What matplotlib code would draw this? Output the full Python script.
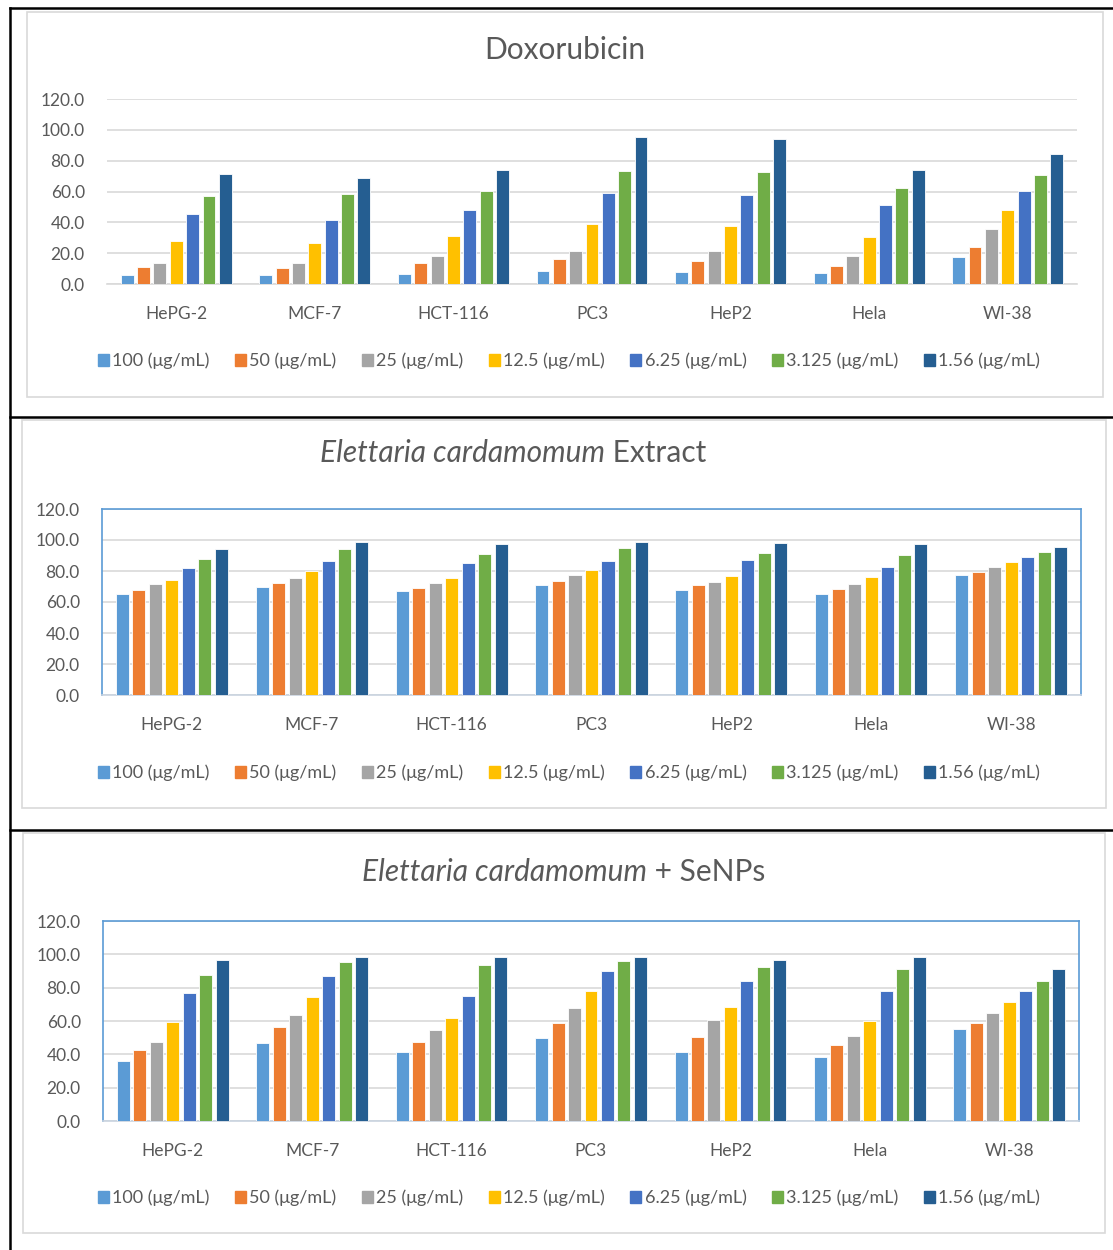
import numpy as np
import matplotlib
matplotlib.use("Agg")
import matplotlib.pyplot as plt
from matplotlib.patches import Rectangle, Patch
from matplotlib.lines import Line2D

plt.rcParams['font.family'] = ['Lato', 'DejaVu Sans']

W, H = 1113, 1250

cell_lines = ["HePG-2", "MCF-7", "HCT-116", "PC3", "HeP2", "Hela", "WI-38"]
doses = ["100 (μg/mL)", "50 (μg/mL)", "25 (μg/mL)", "12.5 (μg/mL)",
         "6.25 (μg/mL)", "3.125 (μg/mL)", "1.56 (μg/mL)"]
colors = ["#5B9BD5", "#ED7D31", "#A5A5A5", "#FFC000", "#4472C4", "#70AD47", "#255E91"]

# viability (%) per cell line, one list per dose
dox_100 = [5.9, 5.6, 6.7, 8.2, 8.0, 6.9, 17.6]
dox_50 = [10.8, 10.4, 13.7, 16.0, 15.0, 11.9, 24.3]
dox_25 = [13.7, 13.9, 18.4, 21.5, 21.5, 18.4, 35.8]
dox_12 = [28.0, 26.4, 31.2, 38.8, 37.7, 30.6, 48.1]
dox_6 = [45.5, 41.2, 47.7, 58.9, 57.9, 51.4, 60.2]
dox_3 = [57.2, 58.1, 60.5, 73.5, 72.4, 62.2, 70.9]
dox_1 = [71.1, 68.9, 73.7, 95.3, 94.0, 73.9, 84.3]

ext_100 = [65.3, 69.6, 67.0, 70.7, 67.9, 65.1, 77.3]
ext_50 = [67.7, 72.4, 69.0, 73.7, 70.9, 68.5, 79.2]
ext_25 = [71.7, 75.8, 72.2, 77.5, 72.8, 71.5, 82.4]
ext_12 = [74.3, 80.1, 75.4, 80.9, 76.9, 76.0, 85.9]
ext_6 = [82.0, 86.5, 85.2, 86.5, 87.4, 82.9, 89.1]
ext_3 = [88.0, 94.0, 91.0, 94.6, 91.6, 90.4, 92.3]
ext_1 = [94.0, 98.7, 97.2, 98.7, 98.1, 97.4, 95.7]

se_100 = [35.9, 46.8, 41.2, 50.0, 41.2, 38.4, 55.0]
se_50 = [42.6, 56.4, 47.2, 59.0, 50.4, 45.4, 58.6]
se_25 = [47.6, 63.7, 54.8, 67.9, 60.6, 51.2, 64.9]
se_12 = [59.6, 74.7, 62.0, 77.9, 68.3, 60.2, 71.7]
se_6 = [77.1, 86.9, 74.9, 90.0, 83.9, 78.1, 78.1]
se_3 = [87.6, 95.2, 93.6, 96.0, 92.2, 91.0, 84.1]
se_1 = [96.6, 98.6, 98.6, 98.2, 96.6, 98.2, 91.2]

panels = [
    {"series": [dox_100, dox_50, dox_25, dox_12, dox_6, dox_3, dox_1],
     "title": [("Doxorubicin", "normal")], "title_xy": (565, 50),
     "box": (107, 99, 1077, 284), "frame": False,
     "chart": (27, 12, 1103, 397), "legend_y": 361},
    {"series": [ext_100, ext_50, ext_25, ext_12, ext_6, ext_3, ext_1],
     "title": [("Elettaria cardamomum", "italic"), (" Extract", "normal")],
     "title_xy": (513, 453),
     "box": (102, 509, 1081, 695), "frame": True,
     "chart": (22, 420, 1106, 808), "legend_y": 773},
    {"series": [se_100, se_50, se_25, se_12, se_6, se_3, se_1],
     "title": [("Elettaria cardamomum", "italic"), (" + SeNPs", "normal")],
     "title_xy": (564, 872),
     "box": (103, 921, 1079, 1121), "frame": True,
     "chart": (23, 833, 1105, 1233), "legend_y": 1198},
]

txt = "#595959"
fig = plt.figure(figsize=(W / 100, H / 100), dpi=100)


def fx(px):
    return px / W


def fy(py):
    return 1 - py / H


# table lines around the three charts
for seg in [((10, 8), (1113, 8)), ((10, 417), (1113, 417)), ((10, 830), (1113, 830)),
            ((10, 8), (10, 1250))]:
    (x0, y0), (x1, y1) = seg
    fig.add_artist(Line2D([fx(x0), fx(x1)], [fy(y0), fy(y1)], color="black", lw=1.8))

x = np.arange(len(cell_lines))
pitch = 0.118
bw = 0.093

for p in panels:
    cx0, cy0, cx1, cy1 = p["chart"]
    fig.add_artist(Rectangle((fx(cx0), fy(cy1)), fx(cx1 - cx0), (cy1 - cy0) / H,
                             transform=fig.transFigure, fill=False,
                             edgecolor="#D9D9D9", lw=1.2))

    l, t, r, b = p["box"]
    ax = fig.add_axes([fx(l), fy(b), fx(r - l), (b - t) / H])
    for i, vals in enumerate(p["series"]):
        ax.bar(x + (i - 3) * pitch, vals, width=bw, color=colors[i],
               edgecolor="white", linewidth=0.6, zorder=3)
    ax.set_xlim(-0.5, 6.5)
    ax.set_ylim(0, 120)
    ax.set_yticks(np.arange(0, 121, 20))
    ax.set_yticklabels([f"{v:.1f}" for v in np.arange(0, 121, 20)])
    ax.set_xticks(x)
    ax.set_xticklabels(cell_lines)
    ax.grid(axis="y", color="#D9D9D9", lw=1.2, zorder=0)
    ax.tick_params(length=0, colors=txt, labelsize=12.5)
    ax.tick_params(axis="x", pad=16)
    ax.tick_params(axis="y", pad=16)
    for side, sp in ax.spines.items():
        if p["frame"]:
            sp.set_color("#5B9BD5")
            sp.set_linewidth(1.2)
        else:
            sp.set_visible(side == "bottom")
            sp.set_color("#D9D9D9")
            sp.set_linewidth(1.2)
    if p["frame"]:
        ax.spines["bottom"].set_color("#C9D3DF")

    # title, with the italic part drawn as its own piece
    tx, ty = p["title_xy"]
    pieces = [fig.text(0, fy(ty), s, style=style, fontsize=21.5, color=txt,
                       va="center", ha="left") for s, style in p["title"]]
    fig.canvas.draw()
    rend = fig.canvas.get_renderer()
    widths = [pc.get_window_extent(rend).width for pc in pieces]
    cur = tx - sum(widths) / 2
    for pc, wdt in zip(pieces, widths):
        pc.set_x(fx(cur))
        cur += wdt

    handles = [Patch(color=c) for c in colors]
    fig.legend(handles, doses, loc="center", bbox_to_anchor=(fx(569), fy(p["legend_y"])),
               ncol=7, frameon=False, fontsize=13, labelcolor=txt,
               handlelength=0.6, handleheight=0.6, handletextpad=0.2,
               columnspacing=1.4, borderaxespad=0)

fig.savefig("out.png", dpi=100)
